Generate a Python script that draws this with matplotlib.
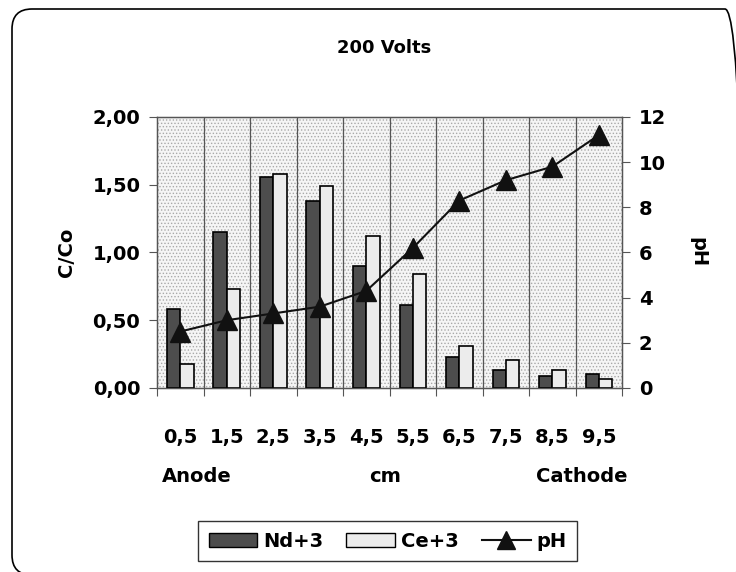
import numpy as np
import matplotlib.pyplot as plt
from matplotlib.patches import FancyBboxPatch, Rectangle, Patch
from matplotlib.lines import Line2D

plt.rcParams['font.family'] = ['DejaVu Sans']
plt.rcParams['font.weight'] = 'bold'
plt.rcParams['hatch.linewidth'] = 0.6

positions = ['0,5', '1,5', '2,5', '3,5', '4,5', '5,5', '6,5', '7,5', '8,5', '9,5']
nd3 = [0.58, 1.15, 1.56, 1.38, 0.90, 0.61, 0.23, 0.13, 0.09, 0.10]
ce3 = [0.18, 0.73, 1.58, 1.49, 1.12, 0.84, 0.31, 0.21, 0.13, 0.07]
ph = [2.5, 3.0, 3.3, 3.6, 4.3, 6.2, 8.3, 9.2, 9.8, 11.2]

FS = 14

fig = plt.figure(figsize=(7.36, 5.72), dpi=100)
# rounded frame, partly cut off at the right and bottom like the original
fig.patches.append(FancyBboxPatch((0.12, -0.03), 7.33, 5.66,
                                  boxstyle='round,pad=0,rounding_size=0.2',
                                  transform=fig.dpi_scale_trans, fill=False,
                                  edgecolor='black', linewidth=1.2))

ax = fig.add_axes([0.2133, 0.3217, 0.632, 0.4738])
ax.set_facecolor('#f5f5f5')
# dotted background
ax.add_patch(Rectangle((0, 0), 1, 1, transform=ax.transAxes, facecolor='none',
                       edgecolor='#a8a8a8', hatch='.....', linewidth=0, zorder=0))

x = np.arange(len(positions))
w = 0.286
ax.bar(x - w / 2, nd3, w, color='#4d4d4d', edgecolor='black', linewidth=1.2, zorder=3)
ax.bar(x + w / 2, ce3, w, color='#ececec', edgecolor='black', linewidth=1.2, zorder=3)

ax.set_xlim(-0.5, len(positions) - 0.5)
ax.set_ylim(0, 2.0)
ax.set_yticks([0, 0.5, 1.0, 1.5, 2.0])
ax.set_yticklabels(['0,00', '0,50', '1,00', '1,50', '2,00'], fontsize=FS, fontweight='bold')
ax.set_xticks(np.arange(-0.5, len(positions), 1.0))
ax.set_xticklabels([])
ax.set_xticks(x, minor=True)
ax.set_xticklabels(positions, minor=True, fontsize=FS, fontweight='bold')
ax.tick_params(axis='x', which='minor', length=0, pad=29)
ax.tick_params(axis='x', which='major', length=6, direction='out', color='#555555')
ax.tick_params(axis='y', length=6, direction='out', color='#555555', pad=6)
for xv in np.arange(0.5, len(positions) - 0.5, 1.0):
    ax.axvline(xv, color='#555555', linewidth=0.9, zorder=1)
ax.set_ylabel('C/Co', fontsize=FS, fontweight='bold', labelpad=12)
for s in ['left', 'bottom', 'top', 'right']:
    ax.spines[s].set_color('#555555')
    ax.spines[s].set_linewidth(1.0)

ax2 = ax.twinx()
ax2.plot(x, ph, color='#111111', linewidth=1.5, marker='^', markersize=15,
         markerfacecolor='#111111', markeredgecolor='#111111', zorder=5)
ax2.set_ylim(0, 12)
ax2.set_yticks(range(0, 13, 2))
ax2.set_yticklabels([str(v) for v in range(0, 13, 2)], fontsize=FS, fontweight='bold')
ax2.tick_params(axis='y', length=6, direction='out', color='#555555', pad=6)
ax2.set_ylabel('pH', fontsize=FS, fontweight='bold', rotation=-90, labelpad=30)
for s in ax2.spines.values():
    s.set_color('#555555')

fig.text(0.522, 0.916, '200 Volts', ha='center', va='center', fontsize=13, fontweight='bold')
fig.text(0.268, 0.167, 'Anode', ha='center', va='center', fontsize=FS, fontweight='bold')
fig.text(0.523, 0.167, 'cm', ha='center', va='center', fontsize=FS, fontweight='bold')
fig.text(0.791, 0.167, 'Cathode', ha='center', va='center', fontsize=FS, fontweight='bold')

handles = [Patch(facecolor='#4d4d4d', edgecolor='black'),
           Patch(facecolor='#ececec', edgecolor='black'),
           Line2D([0], [0], color='#111111', marker='^', markersize=13, linewidth=1.5)]
leg = fig.legend(handles, ['Nd+3', 'Ce+3', 'pH'], loc='center', ncol=3,
                 bbox_to_anchor=(0.5265, 0.054), frameon=True, fancybox=False,
                 edgecolor='black', prop={'size': FS, 'weight': 'bold'},
                 handlelength=2.5, handleheight=0.7, handletextpad=0.3,
                 columnspacing=1.2, borderpad=0.55, borderaxespad=0)
leg.get_frame().set_linewidth(1.0)

fig.savefig('out.png', dpi=100)
